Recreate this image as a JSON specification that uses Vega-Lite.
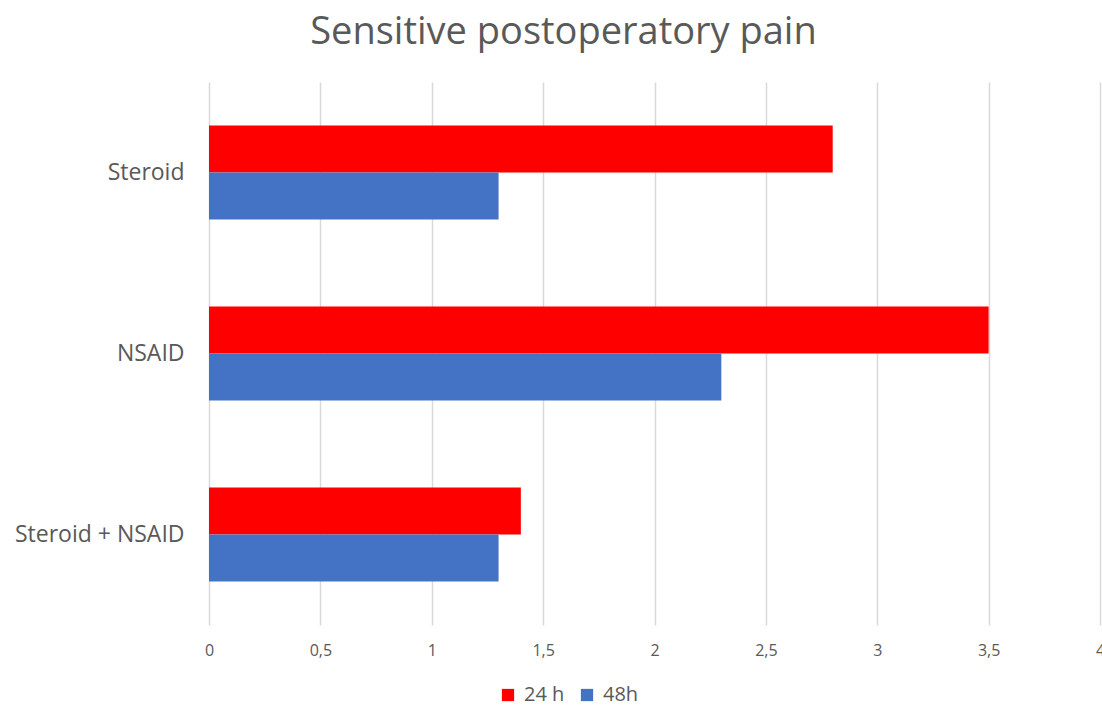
{
  "$schema": "https://vega.github.io/schema/vega-lite/v6.json",
  "width": 891,
  "height": 543,
  "autosize": {"type": "none"},
  "padding": {"left": 209, "top": 82, "right": 2, "bottom": 84},
  "background": "white",
  "title": {
    "text": "Sensitive postoperatory pain",
    "font": "Open Sans",
    "fontSize": 38,
    "fontWeight": "normal",
    "color": "#595959",
    "anchor": "middle",
    "frame": "group",
    "dx": -91,
    "offset": 30
  },
  "data": {
    "values": [
      {"treatment": "Steroid", "time": "24 h", "pain": 2.8},
      {"treatment": "Steroid", "time": "48h", "pain": 1.3},
      {"treatment": "NSAID", "time": "24 h", "pain": 3.5},
      {"treatment": "NSAID", "time": "48h", "pain": 2.3},
      {"treatment": "Steroid + NSAID", "time": "24 h", "pain": 1.4},
      {"treatment": "Steroid + NSAID", "time": "48h", "pain": 1.3}
    ]
  },
  "mark": {"type": "bar"},
  "encoding": {
    "y": {
      "field": "treatment",
      "type": "nominal",
      "sort": ["Steroid", "NSAID", "Steroid + NSAID"],
      "scale": {"paddingInner": 0, "paddingOuter": 0},
      "axis": {
        "title": null,
        "domain": false,
        "ticks": false,
        "labelFont": "Open Sans",
        "labelFontSize": 23,
        "labelColor": "#595959",
        "labelPadding": 25
      }
    },
    "yOffset": {
      "field": "time",
      "type": "nominal",
      "sort": ["24 h", "48h"],
      "scale": {"paddingInner": 0, "paddingOuter": 0.925}
    },
    "x": {
      "field": "pain",
      "type": "quantitative",
      "scale": {"domain": [0, 4], "nice": false},
      "axis": {
        "title": null,
        "values": [0, 0.5, 1, 1.5, 2, 2.5, 3, 3.5, 4],
        "labelExpr": "replace(toString(datum.value), '.', ',')",
        "labelFlush": false,
        "domain": false,
        "ticks": false,
        "grid": true,
        "gridColor": "#d9d9d9",
        "gridWidth": 1.5,
        "labelFont": "Open Sans",
        "labelFontSize": 16,
        "labelColor": "#595959",
        "labelPadding": 17
      }
    },
    "color": {
      "field": "time",
      "type": "nominal",
      "scale": {"domain": ["24 h", "48h"], "range": ["#ff0000", "#4472c4"]},
      "legend": {
        "title": null,
        "orient": "none",
        "direction": "horizontal",
        "legendX": 289,
        "legendY": 603,
        "symbolType": "square",
        "symbolSize": 150,
        "symbolStrokeWidth": 0,
        "labelFont": "Open Sans",
        "labelFontSize": 20,
        "labelColor": "#595959",
        "labelOffset": 6,
        "columnPadding": 12
      }
    }
  },
  "config": {"view": {"stroke": null}}
}
